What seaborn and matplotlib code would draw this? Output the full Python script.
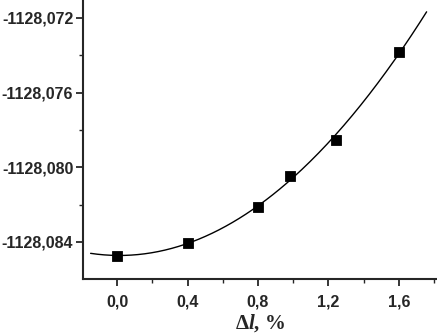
import numpy as np
import pandas as pd
import seaborn as sns
import matplotlib.pyplot as plt
from matplotlib.ticker import FuncFormatter, MultipleLocator

# measured points
strain = [0.0, 0.4, 0.8, 0.98, 1.24, 1.6]
energy = [-1128.08475, -1128.08405, -1128.08213, -1128.08047, -1128.07854, -1128.07383]

df = pd.DataFrame({"strain": strain, "energy": energy})

# quadratic fit through the points, drawn over the range seen in the picture
coef = np.polyfit(df["strain"], df["energy"] + 1128.08, 2)
xfit = np.linspace(-0.15, 1.757, 200)
fit_df = pd.DataFrame({"x": xfit, "y": np.polyval(coef, xfit) - 1128.08})

sns.set_style("ticks")
plt.rcParams["font.family"] = ["Liberation Sans", "DejaVu Sans"]
plt.rcParams["mathtext.fontset"] = "custom"
plt.rcParams["mathtext.rm"] = "Liberation Serif:bold"
plt.rcParams["mathtext.it"] = "Liberation Serif:italic:bold"

fig = plt.figure(figsize=(4.37, 3.36), dpi=100)
ax = fig.add_axes([0.19, 0.17, 0.81, 0.83])

sns.lineplot(data=fit_df, x="x", y="y", color="black", linewidth=1.0, ax=ax)
sns.scatterplot(data=df, x="strain", y="energy", marker="s", s=55,
                color="black", edgecolor="black", ax=ax, zorder=3)

ax.set_xlim(-0.193, 1.816)
ax.set_ylim(-1128.08598, -1128.07104)

ax.xaxis.set_major_locator(MultipleLocator(0.4))
ax.xaxis.set_minor_locator(MultipleLocator(0.2))
ax.yaxis.set_major_locator(MultipleLocator(0.004))
ax.yaxis.set_minor_locator(MultipleLocator(0.002))
ax.xaxis.set_major_formatter(FuncFormatter(lambda v, p: f"{v:.1f}".replace(".", ",").replace("-0,0", "0,0")))
ax.yaxis.set_major_formatter(FuncFormatter(lambda v, p: f"{v:.3f}".replace(".", ",")))

ax.tick_params(axis="both", which="major", direction="out", length=5, width=1.3,
               labelsize=11.5, pad=2)
ax.tick_params(axis="x", which="major", pad=6)
ax.tick_params(axis="both", which="minor", direction="out", length=3, width=1.0)
for lab in ax.get_xticklabels() + ax.get_yticklabels():
    lab.set_fontweight("bold")

for side in ["top", "right"]:
    ax.spines[side].set_visible(False)
for side in ["left", "bottom"]:
    ax.spines[side].set_linewidth(1.5)

ax.set_ylabel("")
ax.set_xlabel(r"$\Delta\mathit{l}$, %", fontsize=15, family="Liberation Serif",
              fontweight="bold", labelpad=2)

fig.savefig("out.png", dpi=100)
